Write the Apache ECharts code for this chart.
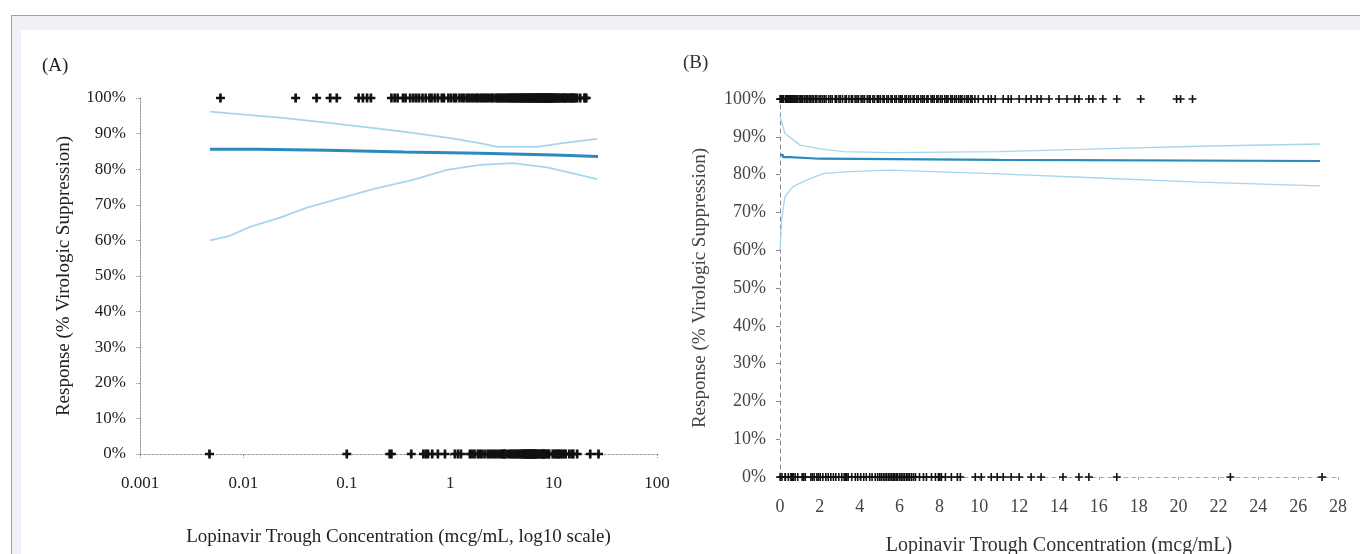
<!DOCTYPE html>
<html>
<head>
<meta charset="utf-8">
<script src="https://cdn.jsdelivr.net/npm/echarts@6/dist/echarts.min.js"></script>
<style>
html, body { margin: 0; padding: 0; width: 1360px; height: 554px; background: #fff; overflow: hidden; }
#frame { position: absolute; left: 11px; top: 15px; right: 0; bottom: 0; border-left: 1px solid #a0a0a0; border-top: 1px solid #a0a0a0; background: #eff1f7; }
#inner { position: absolute; left: 21px; top: 30px; right: 0; bottom: 0; background: #fff; }
#chart { position: absolute; left: 0; top: 0; width: 1360px; height: 554px; }
</style>
</head>
<body>
<div id="frame"></div>
<div id="inner"></div>
<div id="chart"></div>
<script>
// concentrations (mcg/mL) of patients with / without virologic suppression
var responders = [0.006, 0.032, 0.051, 0.069, 0.08, 0.13, 0.143, 0.157, 0.171,
    0.27, 0.29, 0.31, 0.35, 0.37, 0.41, 0.44, 0.47, 0.5, 0.54, 0.58, 0.63, 0.66, 0.71, 0.76, 0.83, 0.87, 0.96, 1.02, 1.09, 1.14, 1.23, 1.31, 1.37, 1.46, 1.53, 1.61, 1.69, 1.79, 1.85, 1.96,
    2.04, 2.13, 2.22, 2.31, 2.44, 2.53, 2.62, 2.77, 2.84, 2.96, 3.03, 3.14, 3.27, 3.33, 3.46, 3.58, 3.64, 3.77, 3.86, 3.94, 4.07, 4.16, 4.24, 4.38, 4.47, 4.53, 4.66, 4.74, 4.88, 4.95,
    5.04, 5.17, 5.23, 5.36, 5.44, 5.57, 5.63, 5.76, 5.84, 5.97, 6.06, 6.13, 6.27, 6.34, 6.46, 6.55, 6.68, 6.73, 6.86, 6.94, 7.07, 7.16, 7.24, 7.37, 7.43, 7.58, 7.66, 7.74, 7.87, 7.93,
    8.05, 8.14, 8.27, 8.36, 8.43, 8.57, 8.64, 8.76, 8.85, 8.97, 9.06, 9.13, 9.26, 9.38, 9.45, 9.57, 9.64, 9.78,
    9.95, 10.2, 10.45, 10.6, 10.8, 11.2, 11.45, 11.6, 12.0, 12.35, 12.6, 12.9, 13.1,
    13.5, 14.0, 14.4, 14.8, 15.0, 15.5, 15.7, 16.2, 16.9, 18.1, 19.9, 20.1, 20.7];
var nonResponders = [0.0047, 0.1, 0.26, 0.27, 0.42, 0.55, 0.58, 0.61, 0.67, 0.76, 0.89, 1.11, 1.19, 1.27,
    1.55, 1.63, 1.72, 1.85, 1.93, 2.02, 2.15, 2.3, 2.42, 2.55, 2.68, 2.8, 2.95, 3.1, 3.22, 3.3, 3.35, 3.42, 3.6, 3.78, 3.9,
    4.05, 4.2, 4.33, 4.5, 4.62, 4.78, 4.9, 5.0, 5.08, 5.18, 5.27, 5.35, 5.44, 5.52, 5.6, 5.68, 5.75, 5.83, 5.9,
    6.0, 6.08, 6.17, 6.25, 6.35, 6.42, 6.5, 6.6, 6.7, 6.8, 7.0, 7.2, 7.35, 7.6, 7.8, 7.95, 8.02, 8.1, 8.3, 8.6, 8.9, 9.05,
    9.8, 10.1, 10.6, 10.9, 11.2, 11.6, 12.0, 12.6, 13.1, 14.2, 15.0, 15.5, 16.9, 22.6, 27.2];

// panel A: log10 concentration -> predicted response (%) and 95% CI
var fitA = [[0.00475, 85.6], [0.0138, 85.3], [0.064, 84.8], [0.357, 84.5], [1.94, 84.0], [10.3, 83.6], [26.9, 83.6]];
var upperA = [[0.00475, 96.2], [0.0074, 95.7], [0.0226, 94.5], [0.064, 93.1], [0.167, 91.7], [0.382, 90.4], [1.0, 88.7], [1.94, 87.3], [2.84, 86.3], [6.9, 86.3], [12.3, 87.3], [26.3, 88.5]];
var lowerA = [[0.00475, 60.0], [0.0074, 61.3], [0.0116, 63.8], [0.0226, 66.4], [0.0412, 69.2], [0.0859, 71.8], [0.179, 74.4], [0.436, 77.0], [0.931, 79.8], [1.94, 81.2], [4.05, 81.7], [8.63, 80.5], [15.4, 78.8], [26.3, 77.2]];

// panel B: linear concentration
var fitB = [[0, 85.2], [0.15, 84.6], [0.5, 84.2], [2, 83.9], [11, 83.6], [27.1, 83.6]];
var upperB = [[0, 95.5], [0.1, 93.6], [0.25, 90.9], [1.0, 87.8], [2.2, 86.7], [3.2, 86.1], [5.5, 85.8], [11, 86.1], [16, 86.8], [21, 87.5], [27.1, 88.1]];
var lowerB = [[0, 60.0], [0.1, 68.9], [0.25, 74.2], [0.65, 76.8], [1.35, 78.6], [2.2, 80.3], [3.5, 80.8], [5.5, 81.2], [11, 80.2], [16, 79.1], [21, 78.0], [27.1, 77.0]];

var serif = 'Liberation Serif';
var plusBold = 'path://M3.5,0H6.5V3.5H10V6.5H6.5V10H3.5V6.5H0V3.5H3.5Z';
var plus = 'path://M4,0H6V4H10V6H6V10H4V6H0V4H4Z';
var dark = '#2a8abd', light = '#a6d6ee';

function at(list, y) {
    return list.map(function (v) { return [v, y]; });
}

var myChart = echarts.init(document.getElementById('chart'));
var option = {
    animation: false,
    backgroundColor: 'transparent',
    title: [
        { text: '(A)', left: 37, top: 52, textStyle: { fontFamily: serif, fontSize: 19, fontWeight: 'normal', color: '#222' } },
        { text: '(B)', left: 678, top: 49, textStyle: { fontFamily: serif, fontSize: 19, fontWeight: 'normal', color: '#333' } }
    ],
    grid: [
        { left: 140, top: 98, width: 517, height: 356, outerBoundsMode: 'none' },
        { left: 780, top: 99, width: 558, height: 378, outerBoundsMode: 'none' }
    ],
    xAxis: [
        {
            gridIndex: 0, type: 'log', logBase: 10, min: 0.001, max: 100,
            name: 'Lopinavir Trough Concentration (mcg/mL, log10 scale)',
            nameLocation: 'middle', nameGap: 74,
            nameTextStyle: { fontFamily: serif, fontSize: 19, color: '#222' },
            axisLine: { lineStyle: { color: '#999', type: [2, 2], width: 1 } },
            axisTick: { show: true, length: 4, lineStyle: { color: '#999', type: [2, 1] } },
            axisLabel: { fontFamily: serif, fontSize: 17, color: '#222', margin: 21 },
            splitLine: { show: false }
        },
        {
            gridIndex: 1, type: 'value', min: 0, max: 28, interval: 2,
            name: 'Lopinavir Trough Concentration (mcg/mL)',
            nameLocation: 'middle', nameGap: 59,
            nameTextStyle: { fontFamily: serif, fontSize: 20, color: '#333' },
            axisLine: { lineStyle: { color: '#aaa', type: [4, 4], width: 1 } },
            axisTick: { show: true, length: 3, lineStyle: { color: '#aaa' } },
            axisLabel: { fontFamily: serif, fontSize: 18, color: '#444', margin: 21 },
            splitLine: { show: false }
        }
    ],
    yAxis: [
        {
            gridIndex: 0, type: 'value', min: 0, max: 100, interval: 10,
            name: 'Response (% Virologic Suppression)',
            nameLocation: 'middle', nameGap: 66,
            nameTextStyle: { fontFamily: serif, fontSize: 19, color: '#222' },
            axisLine: { show: true, lineStyle: { color: '#999', type: [2, 1], width: 1 } },
            axisTick: { show: true, length: 4, lineStyle: { color: '#999', type: [2, 1] } },
            axisLabel: { fontFamily: serif, fontSize: 17, color: '#222', margin: 14, formatter: '{value}%' },
            splitLine: { show: false }
        },
        {
            gridIndex: 1, type: 'value', min: 0, max: 100, interval: 10,
            name: 'Response (% Virologic Suppression)',
            nameLocation: 'middle', nameGap: 70,
            nameTextStyle: { fontFamily: serif, fontSize: 19, color: '#444' },
            axisLine: { show: true, lineStyle: { color: '#888', type: [4, 4], width: 1 } },
            axisTick: { show: true, length: 4, lineStyle: { color: '#888' } },
            axisLabel: { fontFamily: serif, fontSize: 18, color: '#444', margin: 14, formatter: '{value}%' },
            splitLine: { show: false }
        }
    ],
    series: [
        { type: 'line', xAxisIndex: 0, yAxisIndex: 0, data: upperA, symbol: 'none', lineStyle: { color: light, width: 1.8 } },
        { type: 'line', xAxisIndex: 0, yAxisIndex: 0, data: lowerA, symbol: 'none', lineStyle: { color: light, width: 1.8 } },
        { type: 'line', xAxisIndex: 0, yAxisIndex: 0, data: fitA, step: 'end', symbol: 'none', lineStyle: { color: dark, width: 3 } },
        { type: 'scatter', xAxisIndex: 0, yAxisIndex: 0, data: at(responders, 100), symbol: plusBold, symbolSize: 9, itemStyle: { color: '#111', opacity: 1 } },
        { type: 'scatter', xAxisIndex: 0, yAxisIndex: 0, data: at(nonResponders, 0), symbol: plusBold, symbolSize: 9, itemStyle: { color: '#111', opacity: 1 } },

        { type: 'line', xAxisIndex: 1, yAxisIndex: 1, data: upperB, symbol: 'none', lineStyle: { color: light, width: 1.3 } },
        { type: 'line', xAxisIndex: 1, yAxisIndex: 1, data: lowerB, symbol: 'none', lineStyle: { color: light, width: 1.3 } },
        { type: 'line', xAxisIndex: 1, yAxisIndex: 1, data: fitB, step: 'end', symbol: 'none', lineStyle: { color: dark, width: 2.2 } },
        { type: 'scatter', xAxisIndex: 1, yAxisIndex: 1, data: at(responders, 100), symbol: plus, symbolSize: 8, itemStyle: { color: '#111', opacity: 1 } },
        { type: 'scatter', xAxisIndex: 1, yAxisIndex: 1, data: at(nonResponders, 0), symbol: plus, symbolSize: 8, itemStyle: { color: '#111', opacity: 1 } }
    ]
};
myChart.setOption(option);
</script>
</body>
</html>
